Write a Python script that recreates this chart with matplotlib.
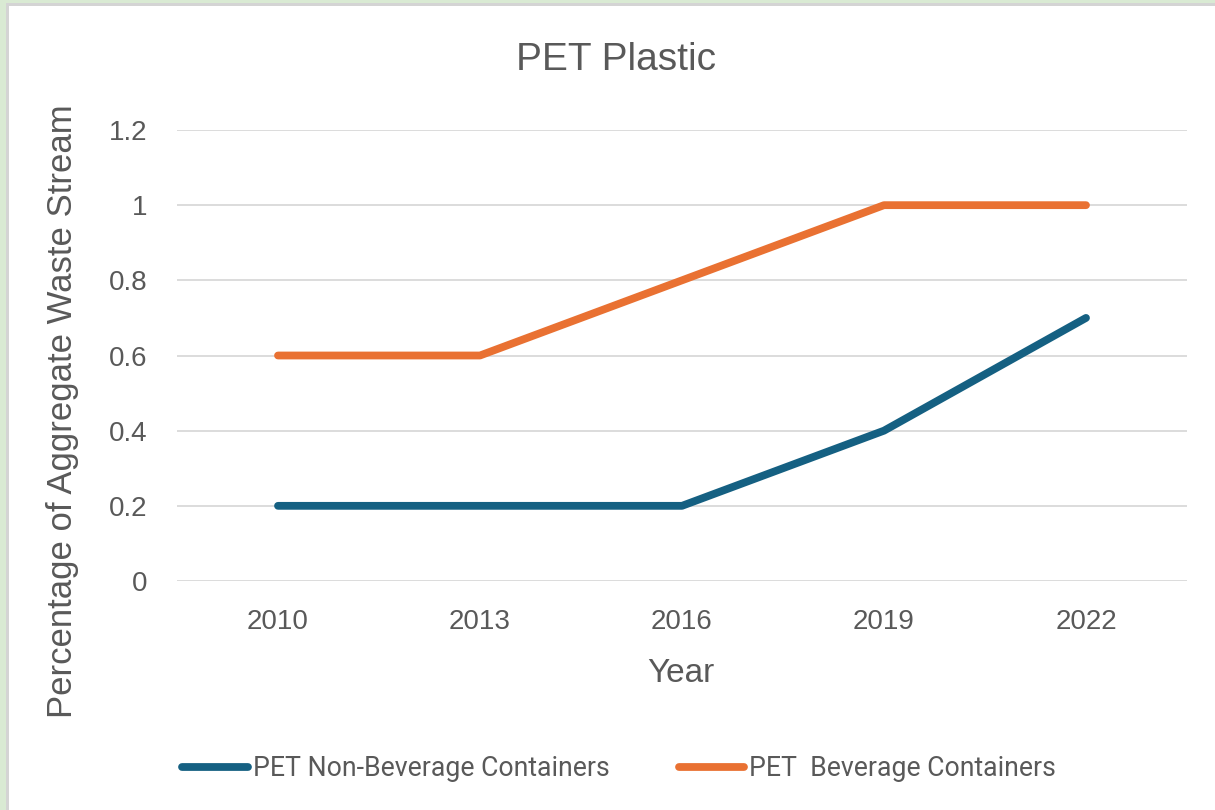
import matplotlib
matplotlib.use("Agg")
import matplotlib.pyplot as plt
from matplotlib.patches import Rectangle
from matplotlib.lines import Line2D

years = ["2010", "2013", "2016", "2019", "2022"]
non_beverage = [0.2, 0.2, 0.2, 0.4, 0.7]
beverage = [0.6, 0.6, 0.8, 1.0, 1.0]
yticks = [0, 0.2, 0.4, 0.6, 0.8, 1.0, 1.2]
ytick_labels = ["0", "0.2", "0.4", "0.6", "0.8", "1", "1.2"]

W, H = 1215, 810
fig = plt.figure(figsize=(W / 100, H / 100), dpi=100)
fig.patch.set_facecolor("white")

# frame border (green outer, grey inner) on top and left
fig.add_artist(Rectangle((0, 1 - 3 / H), 1, 3 / H, transform=fig.transFigure, color="#d9ead3", lw=0))
fig.add_artist(Rectangle((9 / W, 1 - 6 / H), 1, 3 / H, transform=fig.transFigure, color="#d4d4d4", lw=0))
fig.add_artist(Rectangle((0, 0), 6 / W, 1, transform=fig.transFigure, color="#d9ead3", lw=0))
fig.add_artist(Rectangle((6 / W, 0), 3 / W, 1 - 3 / H, transform=fig.transFigure, color="#d4d4d4", lw=0))

ax = fig.add_axes([177 / W, 1 - 581 / H, 1010 / W, 451 / H])
x = list(range(len(years)))
blue = "#156082"
orange = "#E97132"
ax.plot(x, non_beverage, color=blue, lw=5.6, solid_capstyle="round", zorder=3)
ax.plot(x, beverage, color=orange, lw=5.6, solid_capstyle="round", zorder=3)

ax.set_xlim(-0.5, len(years) - 0.5)
ax.set_ylim(0, 1.2)
ax.set_yticks(yticks)
ax.set_yticklabels(ytick_labels)
ax.set_xticks(x)
ax.set_xticklabels(years)
ax.grid(axis="y", color="#d9d9d9", lw=1.3)
ax.set_axisbelow(True)
for s in ax.spines.values():
    s.set_visible(False)
ax.tick_params(length=0, labelsize=20, labelcolor="#595959")
ax.tick_params(axis="x", pad=20)
ax.tick_params(axis="y", pad=21)
for lab in ax.get_xticklabels() + ax.get_yticklabels():
    lab.set_fontfamily(["Liberation Sans", "DejaVu Sans"])

fig.text(616 / W, 1 - 60 / H, "PET Plastic", ha="center", va="center", fontsize=28,
         color="#595959", family=["Liberation Sans", "DejaVu Sans"])
fig.text(681 / W, 1 - 673 / H, "Year", ha="center", va="center", fontsize=24,
         color="#595959", family=["Liberation Sans", "DejaVu Sans"])
fig.text(63 / W, 1 - 411 / H, "Percentage of Aggregate Waste Stream", ha="center", va="center",
         rotation=90, fontsize=25, color="#595959", family=["Liberation Sans", "DejaVu Sans"])

handles = [Line2D([], [], color=blue, lw=5.6, solid_capstyle="round"),
           Line2D([], [], color=orange, lw=5.6, solid_capstyle="round")]
labels = ["PET Non-Beverage Containers", "PET  Beverage Containers"]
leg = fig.legend(handles, labels, loc="center", bbox_to_anchor=(619 / W, 1 - 769 / H), ncol=2,
                 frameon=False, handlelength=2.45, handletextpad=0.18, columnspacing=2.6,
                 prop={"family": ["Roboto", "DejaVu Sans"], "size": 19.2})
for t in leg.get_texts():
    t.set_color("#595959")

fig.savefig("out.png", dpi=100)
